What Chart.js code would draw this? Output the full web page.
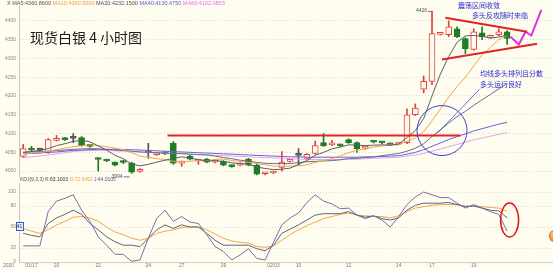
<!DOCTYPE html>
<html>
<head>
<meta charset="utf-8">
<script src="https://cdn.jsdelivr.net/npm/chart.js@4.4.0/dist/chart.umd.min.js"></script>
<style>
  html, body { margin: 0; padding: 0; background: #fefdf0; }
  #wrap { position: relative; width: 553px; height: 270px; overflow: hidden; }
  canvas { position: absolute; left: 0; }
</style>
</head>
<body>
<div id="wrap">
  <canvas id="main" width="553" height="184" style="top:0"></canvas>
  <canvas id="kdj" width="553" height="94" style="top:176px"></canvas>
</div>
<script>
// 4h candles
const opens  = [4039,4058,4055,4050,4082,4087,4087,4089,4069,4034,4030,4024,4026,4021,3999,4049,4044,4050,4074,4021,4040,4027,4032,4024,4026,4014,4016,4032,4016,3993,3995,4010,4026,4042,4034,4047,4076,4070,4070,4084,4076,4061,4080,4077,4073,4072,4076,4150,4218,4239,4364,4363,4379,4353,4324,4368,4356,4363,4371];
const highs  = [4071,4066,4061,4087,4095,4089,4100,4092,4071,4036,4032,4025,4029,4024,4007,4074,4049,4052,4079,4027,4042,4031,4034,4030,4028,4016,4022,4034,4018,3996,4000,4052,4031,4060,4047,4080,4100,4082,4072,4086,4078,4066,4082,4079,4075,4077,4166,4179,4253,4426,4368,4400,4384,4355,4379,4384,4362,4379,4374];
const lows   = [4036,4052,4050,4047,4080,4082,4076,4066,4064,4000,4025,4014,4020,3994,3997,4034,4042,4044,4018,4013,4030,4018,4022,4022,4014,4010,4014,4014,3990,3990,3993,4000,4024,4016,4032,4045,4066,4068,4065,4074,4050,4058,4075,4073,4068,4070,4073,4148,4208,4230,4362,4358,4355,4313,4322,4350,4354,4360,4337];
const closes = [4060,4056,4055,4084,4087,4084,4087,4068,4066,4031,4027,4016,4023,3997,4005,4049,4047,4046,4021,4026,4032,4030,4024,4028,4016,4012,4020,4016,3992,3995,3998,4024,4029,4042,4045,4068,4068,4072,4067,4076,4060,4063,4077,4075,4070,4075,4150,4168,4239,4366,4366,4384,4358,4326,4371,4358,4359,4371,4353];

const ma5  = [4050,4052,4055,4060,4068,4073,4079,4082,4078,4067,4056,4042,4033,4019,4014,4018,4024,4029,4034,4038,4034,4031,4027,4028,4026,4022,4020,4018,4011,4007,4004,4005,4008,4018,4028,4042,4050,4059,4064,4070,4069,4068,4069,4070,4069,4072,4089,4108,4140,4200,4258,4305,4343,4360,4361,4359,4354,4357,4362];
const ma10 = [4046,4048,4050,4053,4057,4061,4065,4068,4070,4068,4065,4061,4057,4049,4040,4037,4033,4031,4026,4026,4026,4028,4028,4031,4032,4028,4026,4023,4020,4017,4013,4013,4013,4014,4017,4023,4028,4033,4041,4049,4055,4059,4064,4067,4070,4070,4079,4088,4105,4134,4165,4197,4225,4250,4280,4309,4330,4350,4361];
const ma20 = [4050,4051,4052,4053,4055,4056,4058,4059,4060,4059,4058,4056,4055,4053,4051,4050,4049,4048,4047,4047,4045,4044,4043,4040,4036,4033,4029,4027,4023,4021,4020,4020,4020,4023,4025,4026,4027,4028,4030,4033,4034,4036,4038,4041,4044,4047,4053,4061,4073,4092,4110,4128,4145,4159,4175,4190,4204,4219,4233];
const ma40 = [4046,4047,4048,4050,4051,4053,4055,4056,4057,4058,4058,4058,4057,4057,4056,4055,4054,4053,4052,4051,4050,4049,4048,4047,4046,4045,4044,4043,4042,4041,4040,4039,4038,4038,4037,4037,4037,4037,4037,4037,4037,4038,4038,4039,4040,4041,4045,4050,4057,4066,4075,4084,4092,4099,4107,4113,4119,4125,4130];
const ma60 = [4036,4038,4040,4043,4046,4049,4052,4054,4055,4055,4055,4054,4053,4052,4051,4050,4049,4048,4047,4046,4045,4044,4043,4042,4041,4040,4039,4038,4037,4036,4035,4034,4033,4032,4031,4031,4031,4031,4031,4032,4032,4033,4034,4035,4036,4037,4040,4043,4047,4053,4059,4065,4071,4077,4083,4088,4093,4098,4102];

const kLine = [41,38,36,55,63,68,74,68,55,46,36,29,24,24,22,34,46,53,48,53,50,50,41,31,24,24,24,24,19,16,24,41,47,53,60,67,69,69,69,72,67,64,66,62,60,63,74,81,84,84,84,85,82,79,80,77,74,73,63.1];
const dLine = [48,44,41,46,53,58,64,65,63,58,50,43,39,34,31,34,41,44,46,49,50,50,46,40,34,30,28,27,22,21,23,31,39,46,52,57,62,65,68,70,67,66,65,65,63,66,72,77,79,81,82,82,82,80,80,79,78,77,72.6];
const jLine = [23,23,23,72,87,91,96,74,58,36,24,11,11,1,3,34,62,74,58,65,57,55,39,22,15,3,10,19,5,3,28,53,63,70,85,96,87,83,76,77,67,62,66,60,50,65,82,93,100,96,92,92,84,77,82,77,72,68,44.0];

const priceTicks = [4000,4050,4100,4150,4200,4250,4300,4350,4400];
const kdjTicks = [0,20,50,80,100];
const xTickIdx = [1,4,9,15,19,24,30,33,39,45,49,54];
const xTickText = ['01/17','20','22','24','27','29','02/03','10','12','14','17','19'];

// hand drawn marks (bar index, price)
const supportLine = [{x:17.3,y:4095},{x:52.4,y:4095}];
const triTop = [{x:50.6,y:4408},{x:60.4,y:4371}];
const triBottom = [{x:50.2,y:4297},{x:61.6,y:4339}];
const forecast = [{x:58.4,y:4358},{x:59.4,y:4337},{x:60.2,y:4371},{x:60.9,y:4361},{x:62.1,y:4429}];
const pointer = [{x:54.7,y:4218},{x:49.6,y:4100}];
const circleAt = [50.2, 4108];
const kdjEllipseAt = [58.3, 60];
const kdjDotAt = [63.7, 37];

const BG = '#fefdf0';
const UP = '#e2413a', DOWN = '#1f7d22', FLAT = '#555';
const candleCol = opens.map((o, i) => closes[i] > o ? UP : (closes[i] < o ? DOWN : FLAT));
const bodyFill = opens.map((o, i) => closes[i] > o ? BG : candleCol[i]);

const gridCol = '#d9d8cc';
const fitY = (s) => { s.width = 19; };
const plainNum = (v) => String(v);

function lineSet(pts, color, w, order) {
  return { type: 'line', data: pts, borderColor: color, borderWidth: w, pointRadius: 0, tension: 0, fill: false, order: order };
}
function idxSet(arr) { return arr.map((v, i) => ({ x: i, y: v })); }

const mainDeco = {
  id: 'mainDeco',
  afterDatasetsDraw(chart) {
    const { ctx, scales: { x, y } } = chart;
    ctx.save();
    // circle round the moving averages
    ctx.strokeStyle = '#4040d0';
    ctx.lineWidth = 1;
    ctx.beginPath();
    ctx.arc(x.getPixelForValue(circleAt[0]), y.getPixelForValue(circleAt[1]), 25, 0, Math.PI * 2);
    ctx.stroke();

    // legend row
    ctx.textBaseline = 'middle';
    ctx.font = '5.5px "Liberation Sans", Arial, sans-serif';
    let lx = 7;
    const parts = [['X ', '#555'], ['MA5:4360.8600 ', '#555'], ['MA10:4360.5000 ', '#f0a050'],
      ['MA20:4232.1500 ', '#4a4a6a'], ['MA40:4130.4750 ', '#5858d8'], ['MA60:4102.0833', '#e070e0']];
    parts.forEach(p => { ctx.fillStyle = p[1]; ctx.fillText(p[0], lx, 3.5); lx += ctx.measureText(p[0]).width; });

    // title
    ctx.fillStyle = '#1c1c1c';
    ctx.font = '14px "Noto Sans CJK SC", sans-serif';
    ctx.fillText('现货白银 4 小时图', 30, 38);

    // notes
    ctx.fillStyle = '#2a2ad0';
    ctx.font = '7px "Noto Sans CJK SC", sans-serif';
    ctx.fillText('震荡区间收敛', 458, 5);
    ctx.fillText('多头反攻随时来临', 472, 15);
    ctx.fillText('均线多头排列且分散', 480, 73);
    ctx.fillText('多头运行良好', 480, 84);

    // high / low marks
    ctx.fillStyle = '#555';
    ctx.strokeStyle = '#777';
    ctx.lineWidth = 1;
    ctx.font = '5px "Liberation Sans", Arial, sans-serif';
    const hx = x.getPixelForValue(49), hy = y.getPixelForValue(4426);
    ctx.textAlign = 'right';
    ctx.fillText('4426', hx - 5, hy);
    ctx.beginPath(); ctx.moveTo(hx - 4, hy + 0.5); ctx.lineTo(hx, hy + 0.5); ctx.stroke();
    const lx2 = x.getPixelForValue(13), ly = y.getPixelForValue(3994) + 3;
    ctx.fillText('3994', lx2 - 9, ly);
    ctx.beginPath(); ctx.moveTo(lx2 - 8, ly + 0.5); ctx.lineTo(lx2 - 2, ly + 0.5); ctx.stroke();
    ctx.restore();
  }
};

new Chart(document.getElementById('main'), {
  type: 'bar',
  data: {
    datasets: [
      lineSet(supportLine, '#e02424', 2, 0),
      lineSet(triTop, '#e02424', 2, 0),
      lineSet(triBottom, '#e02424', 2, 0),
      lineSet(forecast, '#e030e0', 2, 0),
      lineSet(pointer, '#4848d8', 0.8, 0),
      lineSet(idxSet(ma5), '#5c5c6c', 1, 1),
      lineSet(idxSet(ma10), '#f2a450', 1, 1),
      lineSet(idxSet(ma20), '#6a6a8c', 1, 1),
      lineSet(idxSet(ma40), '#6262e0', 1, 1),
      lineSet(idxSet(ma60), '#e6a0ee', 1, 1),
      {
        type: 'bar', order: 2, grouped: false,
        data: opens.map((o, i) => ({ x: i, y: [o, closes[i]] })),
        backgroundColor: bodyFill, borderColor: candleCol, borderWidth: 1,
        barThickness: 6, minBarLength: 2, borderSkipped: false
      },
      {
        type: 'bar', order: 3, grouped: false,
        data: lows.map((l, i) => ({ x: i, y: [l, highs[i]] })),
        backgroundColor: candleCol, borderWidth: 0, barThickness: 1
      }
    ]
  },
  options: {
    responsive: false, animation: false,
    layout: { padding: { top: 4, right: 0, bottom: 8, left: 0 } },
    plugins: { legend: { display: false }, tooltip: { enabled: false } },
    scales: {
      x: { type: 'linear', min: -0.5, max: 63.5, offset: false, display: false },
      y: {
        min: 3987, max: 4439.5,
        afterFit: fitY,
        afterBuildTicks: (s) => { s.ticks = priceTicks.map(v => ({ value: v })); },
        ticks: { font: { size: 5, family: 'Liberation Sans' }, color: '#8a8a80', padding: 3, callback: plainNum },
        grid: { color: gridCol, drawTicks: false },
        border: { color: '#c8c8bc', dash: [1, 2] }
      }
    }
  },
  plugins: [mainDeco]
});

const kdjDeco = {
  id: 'kdjDeco',
  afterDatasetsDraw(chart) {
    const { ctx, scales: { x, y } } = chart;
    ctx.save();
    ctx.textBaseline = 'middle';
    ctx.font = '5px "Liberation Sans", Arial, sans-serif';
    let lx = 20;
    [['KDJ(9,3,3) ', '#555'], ['K:63.1003 ', '#333'], ['D:72.6452 ', '#f0a050'], ['J:44.0105', '#6a4a9a']]
      .forEach(p => { ctx.fillStyle = p[1]; ctx.fillText(p[0], lx, 3.5); lx += ctx.measureText(p[0]).width; });

    ctx.fillStyle = '#777';
    ctx.fillText('2020', 3, 89.5);

    // value box on the axis
    ctx.fillStyle = '#eef2ff';
    ctx.strokeStyle = '#3358e0';
    ctx.lineWidth = 1;
    ctx.fillRect(16, 46.5, 7, 8);
    ctx.strokeRect(16.5, 46.5, 7, 8);
    ctx.fillStyle = '#223';
    ctx.fillText('41', 16.8, 51);

    // red ellipse on the turn
    ctx.strokeStyle = '#d81818';
    ctx.lineWidth = 1.5;
    ctx.beginPath();
    ctx.ellipse(x.getPixelForValue(kdjEllipseAt[0]), y.getPixelForValue(kdjEllipseAt[1]), 9, 17, 0, 0, Math.PI * 2);
    ctx.stroke();

    // orange dot at the edge
    const ox = x.getPixelForValue(kdjDotAt[0]), oy = y.getPixelForValue(kdjDotAt[1]);
    const g = ctx.createRadialGradient(ox - 2, oy - 2, 1, ox, oy, 6);
    g.addColorStop(0, '#ffc070');
    g.addColorStop(1, '#e8761a');
    ctx.fillStyle = g;
    ctx.beginPath(); ctx.arc(ox, oy, 6, 0, Math.PI * 2); ctx.fill();
    ctx.restore();
  }
};

new Chart(document.getElementById('kdj'), {
  type: 'line',
  data: {
    datasets: [
      lineSet(idxSet(jLine), '#7b6ca8', 1, 0),
      lineSet(idxSet(kLine), '#5a6478', 1, 0),
      lineSet(idxSet(dLine), '#f2a54a', 1, 0)
    ]
  },
  options: {
    responsive: false, animation: false,
    layout: { padding: { top: 7, right: 0, bottom: 0, left: 0 } },
    plugins: { legend: { display: false }, tooltip: { enabled: false } },
    scales: {
      x: {
        type: 'linear', min: -0.5, max: 63.5, offset: false,
        afterFit: (s) => { s.height = 8; },
        afterBuildTicks: (s) => { s.ticks = xTickIdx.map(v => ({ value: v })); },
        ticks: {
          autoSkip: false, maxRotation: 0, padding: 1,
          font: { size: 5, family: 'Liberation Sans' }, color: '#777',
          callback: (v) => xTickText[xTickIdx.indexOf(v)]
        },
        grid: { display: false, drawTicks: false },
        border: { color: '#d0d0c4' }
      },
      y: {
        min: 0, max: 112.86,
        afterFit: fitY,
        afterBuildTicks: (s) => { s.ticks = kdjTicks.map(v => ({ value: v })); },
        ticks: { font: { size: 5, family: 'Liberation Sans' }, color: '#8a8a80', padding: 3, callback: plainNum },
        grid: { color: gridCol, drawTicks: false },
        border: { color: '#c8c8bc', dash: [1, 2] }
      }
    }
  },
  plugins: [kdjDeco]
});
</script>
</body>
</html>
